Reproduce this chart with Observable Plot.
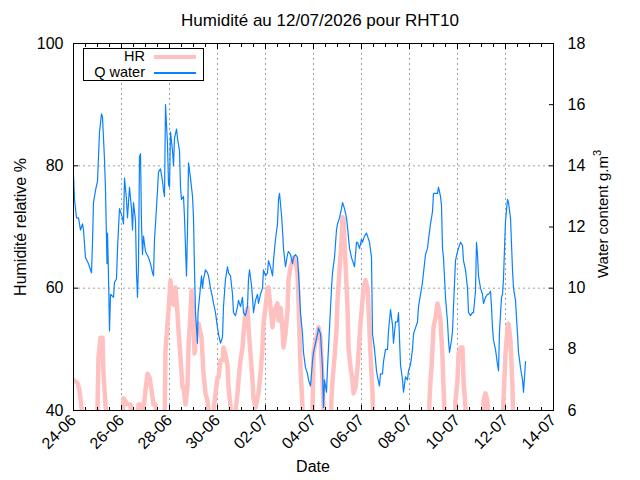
<!DOCTYPE html>
<html><head><meta charset="utf-8">
<script src="https://cdn.jsdelivr.net/npm/d3@7"></script>
<script src="https://cdn.jsdelivr.net/npm/@observablehq/plot@0.6"></script>
<style>
body{margin:0;background:#fff;font-family:"Liberation Sans",Arial,sans-serif;color:#000;}
#wrap{position:relative;width:640px;height:480px;overflow:hidden;}
.abs{position:absolute;white-space:nowrap;font-size:16px;line-height:1;}
.rot{transform:translate(-50%,-50%) rotate(-90deg);}
#legend{position:absolute;left:83px;top:48px;width:119px;height:31px;border:1px solid #000;background:#fff;}
.lrow{position:absolute;left:0;width:119px;height:15px;}
.ltxt{position:absolute;right:58px;top:0;font-size:14.5px;line-height:15px;}
.lline{position:absolute;left:70px;width:42px;}
</style></head><body>
<div id="wrap"></div>
<script>
const chartTitle = "Humidité au 12/07/2026 pour RHT10";
const yLeftLabel = "Humidité relative %";
const xLabel = "Date";
const startDay = Date.UTC(2026, 5, 24);
const endDay = Date.UTC(2026, 6, 14);
const hrTicks = [40, 60, 80, 100];
const hrGrid = [60, 80];
const waterTicks = [6, 8, 10, 12, 14, 16, 18];

// [hours since 24-06 00:00, HR %]
const hrSeries = [[0,45],[4,44.5],[6,43.3],[8,40.5],[10,36],[23,36],[24,40.5],[25,48.7],[27,51.9],[29,51.9],[30,46],[32,41],[34,36],[49,36],[50,42],[54,41],[57,41],[59,36],[64,36],[65,41],[67,41],[68,38],[70,40],[72,43.3],[74,46],[76,45.4],[78,43.3],[80,41],[82,41],[84,36],[91,36],[92,49.8],[94,54.2],[95,56.3],[97,61.3],[99,57.5],[100,57.3],[102,60.1],[104,55.9],[105,53.1],[107,48.7],[109,43.8],[110,43.8],[112,41],[114,43.8],[115,50.3],[117,55.9],[118,59.6],[120,55.9],[121,49.3],[123,53.1],[125,54.2],[128,52],[130,46],[132,42.8],[134,41.6],[135,40],[137,36],[139,36],[140,40],[142,42.8],[144,45.4],[145,45.4],[147,48.2],[149,48.2],[150,50.3],[152,49],[154,47.4],[155,43.8],[157,40.5],[158,36],[161,36],[162,40],[164,42.8],[165,44.9],[167,48.2],[169,50.3],[170,52.6],[172,55.9],[174,56.8],[175,53.6],[177,49.3],[179,44.9],[180,42],[182,40.5],[184,42],[185,42.8],[187,46],[189,50.3],[190,54.2],[192,56.8],[194,60.1],[195,60.1],[197,56.8],[199,53.6],[200,55.2],[202,56.8],[204,57.5],[205,54.7],[207,56.8],[209,53.1],[210,50.3],[212,52.6],[214,56.3],[215,61.3],[217,63.4],[219,64.5],[220,65],[222,64.5],[224,62.4],[225,58],[227,47],[229,40.5],[230,36],[238,36],[239,40],[240,49.3],[242,51.4],[244,52.6],[245,53.6],[247,52],[249,45],[250,40.5],[251,36],[257,36],[258,42],[259,44.9],[261,48.7],[263,53.1],[264,58],[266,62.9],[268,67.8],[269,71.6],[270,71.3],[272,64],[274,56.8],[275,50.3],[277,47],[279,44.9],[280,42.8],[282,43.8],[284,47],[285,49.3],[287,54.2],[289,58],[290,60.1],[292,61.3],[294,60.1],[295,56.8],[297,49.3],[299,42.8],[300,36],[355,36],[356,41.6],[357,44.9],[358,47],[359,50.3],[360,53.6],[362,55.2],[364,57.5],[365,56.8],[367,54.7],[369,48.7],[370,43.8],[371,40],[372,36],[381,36],[382,41.6],[384,44.9],[385,49.3],[387,50.3],[389,50.3],[390,44.9],[392,40.5],[393,36],[409,36],[410,41.6],[412,42.8],[414,41.6],[415,36],[429,36],[430,41.6],[432,49.3],[434,53.6],[435,54.2],[437,51.4],[439,43.8],[440,36],[452,36]];

// [hours since 24-06 00:00, water content g.m-3]
const waterSeries = [[0,13.7],[1,12.9],[3,12.3],[5,12.3],[7,11.9],[9,12.1],[10,11.9],[12,11.0],[15,10.8],[18,10.5],[19,11.5],[20,12.8],[22,13.2],[24,13.5],[25,14.3],[26,15.1],[28,15.7],[29,15.6],[30,14.9],[31,14.2],[32,13.2],[33,11.6],[33.5,10.8],[34,11.8],[35,10.4],[36,8.6],[37,9.8],[40,9.7],[41,10.2],[43,10.3],[44,11.3],[46,12.6],[49,12.3],[50,12.1],[51,13.6],[53,12.9],[54,12.3],[56,13.3],[58,12.6],[59,11.9],[60,12.8],[62,12.2],[63,10.5],[64,9.7],[65,10.8],[66,14.3],[67,14.4],[68,12.1],[69,11.1],[70,11.7],[72,11.2],[75,11.0],[77,10.8],[79,10.5],[80,10.4],[81,11.6],[82,12.1],[84,13.2],[85,13.8],[87,13.9],[89,13.5],[90,13.2],[91,13.0],[92,16.0],[94,14.7],[95,13.4],[96,13.3],[97,15.1],[99,14.5],[100,14.0],[101,14.9],[103,15.2],[104,14.9],[106,14.5],[107,13.3],[108,12.9],[110,13.0],[111,12.3],[113,10.4],[114,11.9],[115,14.1],[117,13.6],[119,13.0],[120,12.3],[121,10.6],[122,9.2],[124,8.2],[124.5,9.2],[126,9.7],[128,10.4],[129,10.0],[130,10.3],[132,10.6],[134,10.5],[135,10.4],[137,10.0],[139,9.7],[140,9.5],[142,9.2],[144,8.7],[145,8.5],[147,8.2],[149,8.4],[150,9.4],[152,10.3],[154,10.7],[155,10.5],[157,10.4],[159,9.8],[160,9.2],[162,9.1],[164,9.4],[165,9.6],[167,9.4],[169,9.7],[170,9.2],[172,9.1],[174,9.4],[175,10.3],[176,10.6],[178,10.1],[179,9.7],[180,9.2],[182,9.6],[184,9.8],[185,9.5],[187,9.8],[189,10.0],[190,10.6],[192,10.4],[194,10.5],[195,10.9],[197,10.7],[199,10.4],[200,10.9],[202,11.6],[204,12.1],[205,12.9],[206,13.1],[208,12.4],[209,11.9],[210,11.3],[212,10.7],[214,11.1],[215,11.2],[217,11.1],[219,10.8],[220,11.0],[222,11.1],[224,11.0],[225,10.5],[227,9.2],[229,8.5],[230,7.9],[232,7.4],[234,7.2],[235,7.0],[237,6.8],[239,7.6],[240,7.9],[242,8.2],[244,8.5],[245,8.7],[247,8.5],[249,7.4],[250,6.1],[251,7.0],[253,6.6],[254,7.4],[256,8.7],[258,10.0],[259,10.5],[261,11.0],[263,11.9],[264,12.1],[266,12.3],[268,12.6],[269,12.8],[271,12.6],[273,12.3],[274,12.0],[276,11.3],[278,11.0],[279,10.9],[281,10.7],[283,11.5],[284,11.5],[286,11.3],[288,11.6],[289,11.5],[291,11.7],[293,11.8],[294,11.7],[296,11.5],[298,11.0],[299,8.5],[301,8.0],[303,7.3],[304,7.1],[306,6.8],[307,7.2],[309,7.2],[310,7.6],[312,8.0],[314,8.0],[315,8.6],[317,9.3],[319,8.8],[320,8.2],[322,8.9],[324,8.9],[325,9.2],[327,7.5],[329,7.0],[330,6.6],[332,7.1],[334,7.0],[335,7.3],[337,7.5],[339,8.0],[340,8.5],[342,8.7],[344,8.9],[345,9.4],[347,9.8],[349,10.2],[350,10.5],[352,11.1],[354,11.3],[355,11.6],[357,12.1],[359,12.5],[360,13.1],[362,13.1],[364,13.1],[365,13.3],[367,13.0],[368,12.7],[369,11.3],[370,11.0],[372,9.7],[374,8.9],[375,8.3],[376,7.9],[378,8.3],[379,8.6],[380,9.4],[382,10.9],[384,11.2],[385,11.3],[387,11.5],[389,11.4],[390,10.9],[392,10.6],[394,10.0],[395,9.2],[397,9.1],[399,9.2],[400,9.2],[402,9.9],[403,11.5],[404,11.1],[405,10.4],[407,10.0],[409,9.8],[410,9.5],[412,9.7],[414,9.8],[415,9.8],[417,9.9],[418,9.4],[419,8.7],[420,8.3],[422,8.0],[424,7.5],[425,7.3],[426,8.6],[428,9.7],[429,9.8],[430,10.3],[431,11.3],[432,12.2],[434,12.9],[435,12.8],[437,12.3],[439,10.6],[440,10.0],[442,9.6],[444,8.5],[445,7.9],[447,7.4],[449,7.0],[450,6.6],[451,7.1],[452,7.6]];

const toDate = h => new Date(startDay + h * 3600e3);
// map the right axis (water 6..18) onto the left scale (HR 40..100)
const w2y = w => 40 + (w - 6) * 5;
const y2w = y => (y - 40) / 5 + 6;

const hrData = hrSeries.map(([h, v]) => ({date: toDate(h), v}));
const waterData = waterSeries.map(([h, w]) => ({date: toDate(h), v: w2y(w)}));

const majorTicks = d3.utcDay.range(new Date(startDay), new Date(endDay + 1), 2);
const minorTicks = d3.utcHour.range(new Date(startDay), new Date(endDay + 1), 12);
const waterPos = waterTicks.map(w2y);

const gridStyle = {stroke: "#a0a0a0", strokeOpacity: 1, strokeDasharray: "2,3", strokeWidth: 1};
const blank = () => "";

const chart = Plot.plot({
  width: 640, height: 480,
  marginLeft: 73, marginRight: 87, marginTop: 43, marginBottom: 70,
  style: {fontFamily: "Liberation Sans, Arial, sans-serif", fontSize: "16px", background: "white", color: "black", overflow: "visible"},
  x: {type: "utc", domain: [new Date(startDay), new Date(endDay)]},
  y: {domain: [40, 100]},
  marks: [
    Plot.gridX(majorTicks, gridStyle),
    Plot.gridY(hrGrid, gridStyle),
    Plot.line(hrData, {x: "date", y: "v", stroke: "#ffc0c0", strokeWidth: 4.5, clip: true}),
    Plot.line(waterData, {x: "date", y: "v", stroke: "#0a80ff", strokeWidth: 1.2, clip: true}),
    Plot.frame({stroke: "black", strokeWidth: 1}),
    // inward ticks
    Plot.axisX(majorTicks, {anchor: "bottom", tickSize: 5, dy: -5, tickFormat: blank, label: null}),
    Plot.axisX(minorTicks, {anchor: "bottom", tickSize: 3, dy: -3, tickFormat: blank, label: null}),
    Plot.axisX(majorTicks, {anchor: "top", tickSize: 5, dy: 5, tickFormat: blank, label: null}),
    Plot.axisX(minorTicks, {anchor: "top", tickSize: 3, dy: 3, tickFormat: blank, label: null}),
    Plot.axisY(hrTicks, {anchor: "left", tickSize: 5, dx: 5, tickFormat: blank, label: null}),
    Plot.axisY(waterPos, {anchor: "right", tickSize: 5, dx: -5, tickFormat: blank, label: null}),
    // tick labels
    Plot.axisX(majorTicks, {anchor: "bottom", tickSize: 0, tickPadding: 7, tickRotate: -45, tickFormat: d3.utcFormat("%d-%m"), fontSize: 16, label: null}),
    Plot.axisY(hrTicks, {anchor: "left", tickSize: 0, tickPadding: 10, fontSize: 16, label: null}),
    Plot.axisY(waterPos, {anchor: "right", tickSize: 0, tickPadding: 14, tickFormat: d => String(y2w(d)), fontSize: 16, label: null})
  ]
});

const wrap = document.getElementById("wrap");
wrap.appendChild(chart);

function addText(html, cls, css) {
  const d = document.createElement("div");
  d.className = "abs " + cls;
  d.innerHTML = html;
  Object.assign(d.style, css);
  wrap.appendChild(d);
  return d;
}
addText(chartTitle, "", {left: "320px", top: "12px", transform: "translateX(-50%)", fontSize: "17px"});
addText(xLabel, "", {left: "313px", top: "459px", transform: "translateX(-50%)"});
addText(yLeftLabel, "rot", {left: "21px", top: "227px"});
addText("Water content g.m<sup style='font-size:11px;vertical-align:7px'>3</sup>", "rot", {left: "601px", top: "214px", fontSize: "15px"});

// legend
const legendItems = [{name: "HR", color: "#ffc0c0", width: 4.5}, {name: "Q water", color: "#0a80ff", width: 1.2}];
const lg = document.createElement("div");
lg.id = "legend";
legendItems.forEach((it, i) => {
  const row = document.createElement("div");
  row.className = "lrow";
  row.style.top = (0 + i * 16) + "px";
  const t = document.createElement("div");
  t.className = "ltxt";
  t.textContent = it.name;
  const l = document.createElement("div");
  l.className = "lline";
  l.style.top = (8 - it.width / 2) + "px";
  l.style.height = it.width + "px";
  l.style.background = it.color;
  row.appendChild(t); row.appendChild(l);
  lg.appendChild(row);
});
wrap.appendChild(lg);
</script>
</body></html>
